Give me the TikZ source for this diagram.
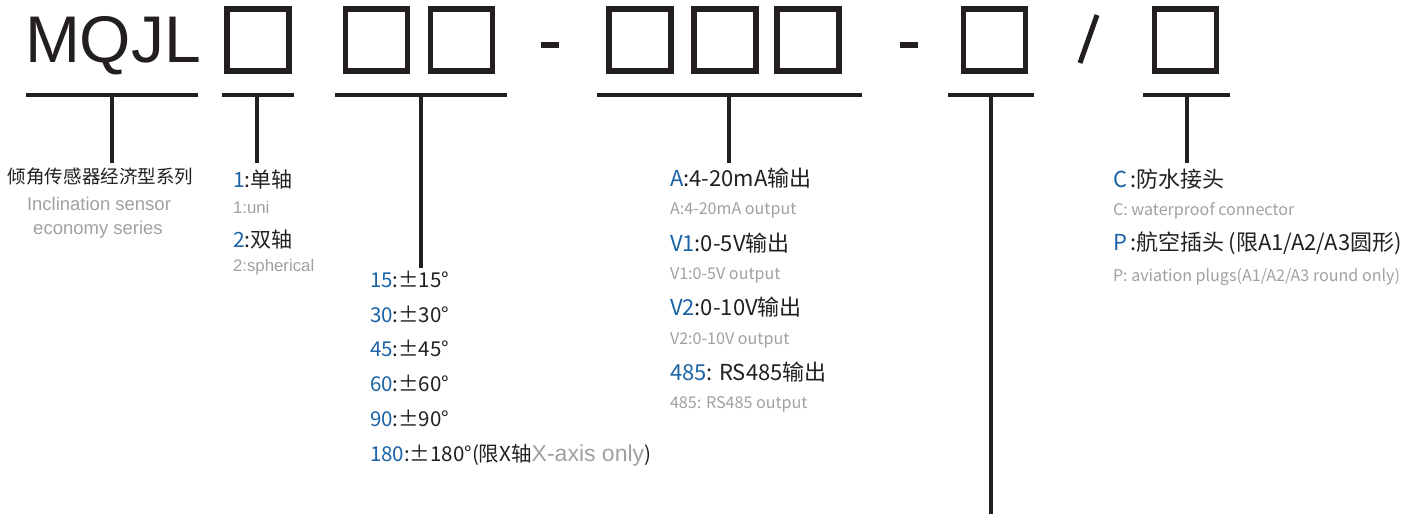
\documentclass[tikz,border=0pt]{standalone}
\usepackage{fontspec}
\setmainfont{Liberation Sans}
\newfontfamily\cjk{Noto Sans CJK SC}
\definecolor{ink}{HTML}{231F20}
\definecolor{blu}{HTML}{1A63A6}
\definecolor{gry}{HTML}{A0A0A0}
\begin{document}
\begin{tikzpicture}[x=1pt,y=-1pt,
  sq/.style={draw=ink,line width=5.6pt,minimum size=62pt,inner sep=0pt,outer sep=0pt},
  bar/.style={draw=ink,line width=3.5pt},
  lbl/.style={inner sep=0pt,outer sep=0pt,anchor=base west,text=ink},
  cn/.style={lbl,font=\cjk\fontsize{21}{25}\selectfont},
  big/.style={lbl,font=\cjk\fontsize{22}{26}\selectfont},
  ang/.style={lbl,font=\cjk\fontsize{20.5}{25}\selectfont},
  sub/.style={lbl,text=gry,font=\cjk\fontsize{16.1}{19}\selectfont},
  en/.style={lbl,text=gry,font=\fontsize{18.5}{22}\selectfont},
  ens/.style={lbl,text=gry,font=\fontsize{16.8}{20}\selectfont}]
\useasboundingbox (0,0) rectangle (1413,514);

% title and boxes
\node[lbl,font=\fontsize{66}{70}\selectfont] (title) at (25,62) {MQJL};
\node[sq] (q1) at (258,40) {};
\node[sq] (q2) at (376.5,40) {};
\node[sq] (q3) at (461.5,40) {};
\node[sq] (q4) at (640,40) {};
\node[sq] (q5) at (725,40) {};
\node[sq] (q6) at (808,40) {};
\node[sq] (q7) at (994.5,40) {};
\node[sq] (q8) at (1185.5,40) {};
\coordinate (d1a) at (541,45); \coordinate (d1b) at (559,45);
\coordinate (d2a) at (900,45); \coordinate (d2b) at (918,45);
\draw[ink,line width=6pt] (d1a) -- (d1b);
\draw[ink,line width=6pt] (d2a) -- (d2b);
\coordinate (sla) at (1097,15); \coordinate (slb) at (1080,63);
\draw[ink,line width=5pt] (sla) -- (slb);

% horizontal bars
\coordinate (l1a) at (26,95);   \coordinate (l1b) at (198,95);
\coordinate (l2a) at (222,95);  \coordinate (l2b) at (294,95);
\coordinate (l3a) at (335,95);  \coordinate (l3b) at (507,95);
\coordinate (l4a) at (597,95);  \coordinate (l4b) at (862,95);
\coordinate (l5a) at (948,95);  \coordinate (l5b) at (1034,95);
\coordinate (l6a) at (1143,95); \coordinate (l6b) at (1230,95);
\foreach \i in {1,...,6}{\draw[bar] (l\i a) -- (l\i b);}

% stems
\coordinate (h1) at (112,95);  \coordinate (e1) at (112,163);
\coordinate (h2) at (257,95);  \coordinate (e2) at (257,163);
\coordinate (h3) at (421,95);  \coordinate (e3) at (421,268);
\coordinate (h4) at (729,95);  \coordinate (e4) at (729,163);
\coordinate (h5) at (991,95);  \coordinate (e5) at (991,514);
\coordinate (h6) at (1187,95); \coordinate (e6) at (1187,163);
\foreach \i in {1,...,6}{\draw[bar] (h\i) -- (e\i);}

% series
\node[lbl,font=\cjk\fontsize{18.5}{22}\selectfont] (s1) at (8,183) {倾角传感器经济型系列};
\node[en,anchor=base] (s2) at (99,210) {Inclination sensor};
\node[en,anchor=base] (s3) at (98,234) {economy series};

% axes
\node[cn] (a1) at (233,187) {\textcolor{blu}{1}:单轴};
\node[ens] (a1e) at (233,213) {1:uni};
\node[cn] (a2) at (233,247) {\textcolor{blu}{2}:双轴};
\node[ens] (a2e) at (233,271) {2:spherical};

% angles
\node[ang] (g1) at (370,287) {\textcolor{blu}{15}:±15°};
\node[ang] (g2) at (370,322) {\textcolor{blu}{30}:±30°};
\node[ang] (g3) at (370,356.5) {\textcolor{blu}{45}:±45°};
\node[ang] (g4) at (370,391) {\textcolor{blu}{60}:±60°};
\node[ang] (g5) at (370,426) {\textcolor{blu}{90}:±90°};
\node[ang] (g6) at (370,461) {\textcolor{blu}{180}:±180°(限X轴{\rmfamily\fontsize{23}{26}\selectfont\color{gry}X-axis only})};

% outputs
\node[big] (o1) at (670,186) {\textcolor{blu}{A}:4-20mA输出};
\node[sub] (o1e) at (670,214) {A:4-20mA output};
\node[big] (o2) at (670,251) {\textcolor{blu}{V1}:0-5V输出};
\node[sub] (o2e) at (670,279) {V1:0-5V output};
\node[big] (o3) at (670,315) {\textcolor{blu}{V2}:0-10V输出};
\node[sub] (o3e) at (670,344) {V2:0-10V output};
\node[big] (o4) at (670,380) {\textcolor{blu}{485}: RS485输出};
\node[sub] (o4e) at (670,408) {485: RS485 output};

% connectors
\node[big] (c1) at (1113,187) {\textcolor{blu}{C}\hspace{0.15em}:防水接头};
\node[sub] (c1e) at (1113,215) {C: waterproof connector};
\node[big] (c2) at (1113,250) {\textcolor{blu}{P}\hspace{0.15em}:航空插头\hspace{0.2em}(限A1/A2/A3圆形)};
\node[sub] (c2e) at (1113,281) {P: aviation plugs(A1/A2/A3 round only)};
\end{tikzpicture}
\end{document}
